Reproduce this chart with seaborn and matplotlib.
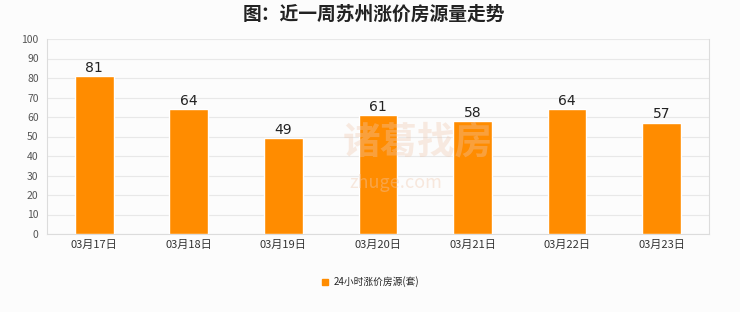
import matplotlib
matplotlib.use("Agg")
import matplotlib.pyplot as plt
import seaborn as sns
import pandas as pd
from matplotlib.lines import Line2D

dates = ["03月17日", "03月18日", "03月19日", "03月20日", "03月21日", "03月22日", "03月23日"]
values = [81, 64, 49, 61, 58, 64, 57]
series_name = "24小时涨价房源(套)"
title = "图：近一周苏州涨价房源量走势"

sns.set_theme(style="white")
plt.rcParams['font.family'] = ['Noto Sans CJK SC', 'DejaVu Sans']

bg = "#fcfcfc"
orange = "#ff8c00"

fig = plt.figure(figsize=(7.4, 3.12), dpi=100, facecolor=bg)
ax = fig.add_axes([0.0635, 0.25, 0.8945, 0.625])
ax.set_facecolor(bg)

df = pd.DataFrame({"date": dates, "value": values})
sns.barplot(data=df, x="date", y="value", color=orange, width=0.41, ax=ax,
            saturation=1, zorder=3)

ax.set_ylim(0, 100)
ax.set_yticks(range(0, 101, 10))
ax.set_xlim(-0.5, len(dates) - 0.5)
ax.yaxis.grid(True, color="#e8e8e8", linewidth=0.8, zorder=0)
ax.set_axisbelow(True)
for s in ax.spines.values():
    s.set_color("#dcdcdc")
    s.set_linewidth(0.8)
ax.spines["top"].set_visible(False)
ax.tick_params(axis="y", labelsize=7.5, colors="#555555", length=0, pad=6)
ax.tick_params(axis="x", labelsize=8, colors="#333333", length=0, pad=4)
ax.set_xlabel("")
ax.set_ylabel("")

for c in ax.containers:
    ax.bar_label(c, labels=[str(v) for v in values], fontsize=10, color="#222222",
                 padding=1, family="DejaVu Sans")

# watermark
fig.text(0.565, 0.545, "诸葛找房", fontsize=27, color="#f0c8ae", alpha=0.35,
         ha="center", va="center", fontweight="bold", zorder=5)
fig.text(0.535, 0.415, "zhuge.com", fontsize=13, color="#f0c8ae", alpha=0.4,
         ha="center", va="center", zorder=5)

fig.suptitle(title, x=0.505, y=0.985, fontsize=13.5, fontweight="bold", color="#222222")

handle = Line2D([], [], marker="s", linestyle="none", color=orange, markersize=5)
fig.legend([handle], [series_name], loc="center", bbox_to_anchor=(0.5, 0.097),
           frameon=False, fontsize=7, handletextpad=0.4, handlelength=1)

fig.savefig("out.png", dpi=100, facecolor=bg)
